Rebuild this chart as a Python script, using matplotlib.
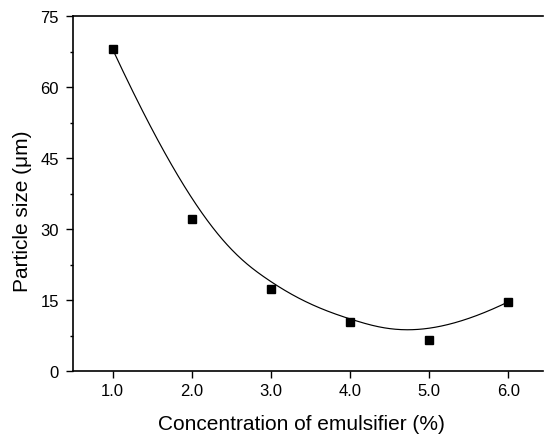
import numpy as np
import matplotlib
matplotlib.use("Agg")
import matplotlib.pyplot as plt
from matplotlib.ticker import MultipleLocator

plt.rcParams['font.family'] = ['Liberation Sans', 'DejaVu Sans']

concentration = [1.0, 2.0, 3.0, 4.0, 5.0, 6.0]
particle_size = [68.0, 32.1, 17.3, 10.4, 6.5, 14.6]
x_ticks = [1.0, 2.0, 3.0, 4.0, 5.0, 6.0]
y_ticks = [0, 15, 30, 45, 60, 75]


def bspline_curve(px, py, degree=3, num=400):
    """Clamped uniform B-spline using the data points as control points."""
    P = np.column_stack([px, py])
    n = len(P)
    k = degree
    inner = np.arange(1, n - k)
    knots = np.concatenate([np.zeros(k + 1), inner, np.full(k + 1, n - k)]).astype(float)
    ts = np.linspace(0, n - k, num)
    ts[-1] -= 1e-9

    def basis(i, p, t):
        if p == 0:
            return 1.0 if knots[i] <= t < knots[i + 1] else 0.0
        a = 0.0
        d1 = knots[i + p] - knots[i]
        if d1 > 0:
            a += (t - knots[i]) / d1 * basis(i, p - 1, t)
        d2 = knots[i + p + 1] - knots[i + 1]
        if d2 > 0:
            a += (knots[i + p + 1] - t) / d2 * basis(i + 1, p - 1, t)
        return a

    pts = np.array([sum(basis(i, k, t) * P[i] for i in range(n)) for t in ts])
    return pts[:, 0], pts[:, 1]


fig = plt.figure(figsize=(5.44, 4.35), dpi=100)
ax = fig.add_axes([73/544, 63/435, (543-73)/544, (372-17)/435])

cx, cy = bspline_curve(concentration, particle_size)
ax.plot(cx, cy, color='black', lw=0.85)
ax.plot(concentration, particle_size, 's', color='black', ms=5.2)

ax.set_xlim(0.5, 6.44)
ax.set_ylim(0, 75)
ax.set_xticks(x_ticks)
ax.set_xticklabels([f"{v:.1f}" for v in x_ticks])
ax.set_yticks(y_ticks)
ax.yaxis.set_minor_locator(MultipleLocator(7.5))
ax.tick_params(axis='both', which='major', direction='out', length=5, width=1, labelsize=12)
ax.tick_params(axis='y', which='major', pad=5)
ax.tick_params(axis='y', which='minor', direction='out', length=2.5, width=1)
for s in ax.spines.values():
    s.set_linewidth(1.2)
ax.spines['right'].set_visible(False)
ax.set_xlabel('Concentration of emulsifier (%)', fontsize=15, labelpad=12, x=0.486)
ax.set_ylabel('Particle size (\u03bcm)', fontsize=15, labelpad=6, y=0.4535)

fig.savefig('out.png', dpi=100)
